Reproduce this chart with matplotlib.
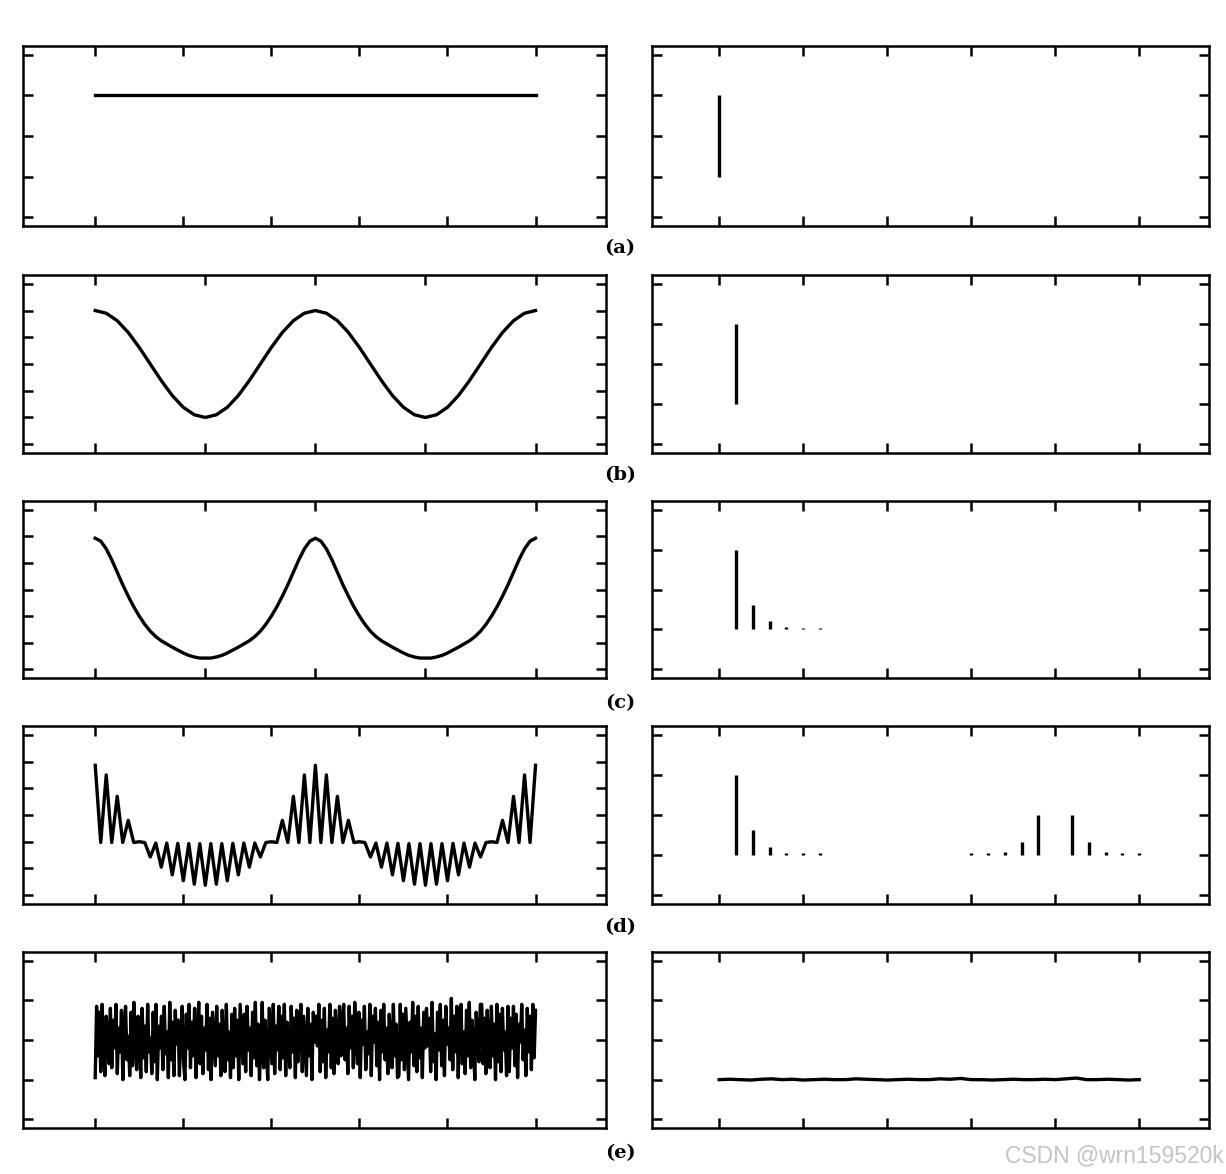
import matplotlib
matplotlib.use('Agg')
import matplotlib.pyplot as plt
import numpy as np

W, H = 1226, 1174

# ---- time signals (left column) ----
a_t = [0.0, 5.0]
a_sig = [3.0, 3.0]

# sampled every 0.125
b_sig = [5.0, 4.90, 4.62, 4.18, 3.62, 3.0, 2.38, 1.82, 1.38, 1.10, 1.0,
         1.10, 1.38, 1.82, 2.38, 3.0, 3.62, 4.18, 4.62, 4.90, 5.0,
         4.90, 4.62, 4.18, 3.62, 3.0, 2.38, 1.82, 1.38, 1.10, 1.0,
         1.10, 1.38, 1.82, 2.38, 3.0, 3.62, 4.18, 4.62, 4.90, 5.0]

# sampled every 0.0625
c_sig = [4.93, 4.82, 4.53, 4.12, 3.65, 3.18, 2.75, 2.35, 2.0, 1.69, 1.43, 1.23, 1.07, 0.95, 0.83, 0.72, 0.61, 0.52, 0.46, 0.42,
         0.42, 0.42, 0.46, 0.52, 0.61, 0.72, 0.83, 0.95, 1.07, 1.23, 1.43, 1.69, 2.0, 2.35, 2.75, 3.18, 3.65, 4.12, 4.53, 4.82,
         4.93, 4.82, 4.53, 4.12, 3.65, 3.18, 2.75, 2.35, 2.0, 1.69, 1.43, 1.23, 1.07, 0.95, 0.83, 0.72, 0.61, 0.52, 0.46, 0.42,
         0.42, 0.42, 0.46, 0.52, 0.61, 0.72, 0.83, 0.95, 1.07, 1.23, 1.43, 1.69, 2.0, 2.35, 2.75, 3.18, 3.65, 4.12, 4.53, 4.82,
         4.93]

# sampled every 0.0625 (carrier peaks / troughs)
d_sig = [4.86, 1.97, 4.5, 1.97, 3.7, 1.97, 2.8, 1.97, 2.0, 1.97,
         1.43, 1.95, 1.05, 1.95, 0.76, 1.94, 0.54, 1.93, 0.41, 1.93,
         0.37, 1.93, 0.41, 1.93, 0.54, 1.94, 0.76, 1.95, 1.05, 1.95,
         1.43, 1.97, 2.0, 1.97, 2.8, 1.97, 3.7, 1.97, 4.5, 1.97,
         4.86, 1.97, 4.5, 1.97, 3.7, 1.97, 2.8, 1.97, 2.0, 1.97,
         1.43, 1.95, 1.05, 1.95, 0.76, 1.94, 0.54, 1.93, 0.41, 1.93,
         0.37, 1.93, 0.41, 1.93, 0.54, 1.94, 0.76, 1.95, 1.05, 1.95,
         1.43, 1.97, 2.0, 1.97, 2.8, 1.97, 3.7, 1.97, 4.5, 1.97, 4.86]

e_sig = [1.05, 2.85, 1.6, 2.7, 1.2, 2.9, 1.9, 1.1, 2.6, 2.2, 1.4, 2.8, 1.3, 2.5, 1.8, 2.9, 1.15, 2.3, 1.7, 2.75,
         1.0, 2.4, 2.85, 1.5, 2.1, 1.1, 2.7, 1.35, 2.95, 1.9, 1.25, 2.6, 2.0, 1.05, 2.8, 1.55, 2.35, 1.2, 2.9, 1.7,
         2.05, 1.15, 2.7, 1.45, 2.9, 1.0, 2.35, 1.8, 2.6, 1.25, 2.85, 1.65, 2.2, 1.05, 2.95, 1.5, 2.45, 1.1, 2.75, 1.9,
         2.5, 1.1, 2.2, 2.85, 1.45, 1.0, 2.65, 1.8, 2.9, 1.3, 2.45, 1.6, 2.8, 1.05, 2.1, 2.95, 1.4, 2.6, 1.15, 2.3,
         1.75, 2.9, 1.25, 2.55, 1.0, 2.7, 2.05, 1.35, 2.85, 1.6, 2.4, 1.1, 2.75, 1.9, 1.2, 2.9, 1.5, 2.2, 1.05, 2.65,
         1.3, 2.8, 1.6, 2.5, 1.0, 2.9, 2.15, 1.4, 2.65, 1.2, 2.85, 1.75, 2.3, 1.1, 2.7, 1.55, 2.95, 1.35, 2.4, 1.0,
         1.85, 2.95, 1.3, 2.5, 1.65, 1.0, 2.8, 2.1, 1.4, 2.9, 1.15, 2.35, 1.75, 2.85, 1.25, 2.6, 1.55, 2.9, 1.1, 2.45,
         2.0, 1.3, 2.85, 1.7, 2.55, 1.05, 2.75, 1.45, 2.25, 2.9, 1.2, 2.6, 1.85, 1.1, 2.8, 1.6, 2.4, 1.0, 2.7, 1.95,
         2.6, 1.85, 2.9, 1.2, 2.5, 1.45, 2.8, 1.05, 2.25, 1.7, 2.9, 1.3, 2.55, 1.15, 2.75, 2.0, 1.4, 2.85, 1.6, 2.35,
         2.9, 1.5, 2.3, 1.15, 2.85, 1.8, 2.6, 1.3, 2.95, 2.1, 1.4, 2.7, 1.05, 2.5, 1.9, 2.85, 1.25, 2.2, 1.65, 2.9,
         1.1, 2.6, 1.95, 2.8, 1.35, 2.45, 1.0, 2.75, 1.7, 2.9, 1.5, 2.3, 1.15, 2.65, 2.05, 1.3, 2.9, 1.6, 2.4, 1.05,
         1.1, 2.9, 1.5, 2.65, 1.25, 2.8, 1.9, 1.0, 2.45, 1.7, 2.95, 1.35, 2.6, 1.2, 2.85, 1.55, 2.3, 1.05, 2.7, 1.8,
         2.8, 1.85, 2.55, 1.2, 2.95, 1.45, 2.15, 1.0, 2.7, 1.75, 2.9, 1.35, 2.5, 1.1, 2.85, 1.9, 2.3, 1.5, 3.05, 1.25,
         2.6, 1.7, 2.85, 1.05, 2.4, 2.9, 1.4, 2.2, 1.15, 2.75, 1.6, 2.95, 1.3, 2.5, 1.85, 1.0, 2.7, 2.1, 1.45, 2.9,
         2.9, 1.4, 2.55, 1.15, 2.75, 1.95, 1.3, 2.85, 1.6, 2.4, 1.0, 2.9, 1.45, 2.65, 1.2, 2.8, 1.75, 2.2, 1.1, 2.85,
         1.2, 2.55, 1.8, 2.85, 1.35, 2.65, 1.05, 2.4, 1.95, 2.9, 1.5, 2.25, 1.1, 2.8, 1.7, 2.6, 1.25, 2.9, 1.55, 2.75]

# ---- spectra (right column) ----
base = 1.0
a_f, a_amp = [0.0], [2.0]
b_f, b_amp = [0.2], [2.0]
c_f = [0.2, 0.4, 0.6, 0.8, 1.0, 1.2]
c_amp = [2.0, 0.6, 0.22, 0.05, 0.04, 0.04]
d_f = [0.2, 0.4, 0.6, 0.8, 1.0, 1.2, 3.0, 3.2, 3.4, 3.6, 3.8, 4.2, 4.4, 4.6, 4.8, 5.0]
d_amp = [2.0, 0.62, 0.2, 0.05, 0.04, 0.04, 0.04, 0.05, 0.08, 0.32, 1.0, 1.0, 0.32, 0.08, 0.05, 0.04]
e_spec = [1.0, 1.01, 1.0, 0.99, 1.01, 1.02, 1.0, 1.01, 0.99, 1.0, 1.01, 1.0, 1.0, 1.02, 1.01,
          1.0, 0.99, 1.0, 1.01, 1.0, 1.0, 1.02, 1.01, 1.03, 1.0, 1.0, 0.99, 1.0, 1.01, 1.0,
          1.0, 1.01, 1.0, 1.02, 1.04, 1.0, 1.0, 1.01, 1.0, 0.99, 1.0]

labels = ['(a)', '(b)', '(c)', '(d)', '(e)']
row_px = [(46, 226), (275, 453), (501, 678), (726, 904), (952, 1128)]
label_y = [248, 475, 703, 927, 1153]

fig = plt.figure(figsize=(W / 100, H / 100), dpi=100)


def make_ax(x0, x1, y0, y1):
    return fig.add_axes([x0 / W, 1 - y1 / H, (x1 - x0) / W, (y1 - y0) / H])


def style(ax, xt, yt, xlim):
    ax.set_xticks(xt)
    ax.set_yticks(yt)
    ax.set_xlim(*xlim)
    span = yt[-1] - yt[0]
    ax.set_ylim(yt[0] - 0.055 * span, yt[-1] + 0.055 * span)
    ax.tick_params(direction='in', length=7.5, width=1.8, top=True, right=True,
                   labelbottom=False, labelleft=False, color='black')
    for s in ax.spines.values():
        s.set_linewidth(1.8)


lw = 2.4
xt6 = [0, 1, 2, 3, 4, 5]
xt5 = [0, 1.25, 2.5, 3.75, 5]
yt5 = [0, 1, 2, 3, 4]
yt7 = [0, 1, 2, 3, 4, 5, 6]
left_x = (-0.82, 5.8)
right_x = (-0.8, 5.83)

left_xt = [xt6, xt5, xt5, xt6, xt6]
left_yt = [yt5, yt7, yt7, yt7, yt5]
left_data = [(a_t, a_sig),
             (np.linspace(0, 5, len(b_sig)), b_sig),
             (np.linspace(0, 5, len(c_sig)), c_sig),
             (np.linspace(0, 5, len(d_sig)), d_sig),
             (np.linspace(0, 5, len(e_sig)), e_sig)]
spectra = [(a_f, a_amp), (b_f, b_amp), (c_f, c_amp), (d_f, d_amp), None]

for i in range(5):
    y0, y1 = row_px[i]
    axl = make_ax(23, 606, y0, y1)
    t, s = left_data[i]
    axl.plot(t, s, color='black', lw=lw)
    style(axl, left_xt[i], left_yt[i], left_x)

    axr = make_ax(652, 1209, y0, y1)
    if spectra[i] is not None:
        f, amp = spectra[i]
        axr.vlines(f, base, base + np.array(amp), color='black', lw=lw)
    else:
        axr.plot(np.linspace(0, 5, len(e_spec)), e_spec, color='black', lw=lw)
    style(axr, xt6, yt5, right_x)

    fig.text(620 / W, 1 - label_y[i] / H, labels[i], ha='center', va='center',
             fontsize=14, fontweight='bold', family='DejaVu Serif')

fig.text(1224 / W, 1 - 1156 / H, 'CSDN @wrn159520k', ha='right', va='center',
         fontsize=16.5, color='#c4c4c4', family='Liberation Sans')

fig.savefig('out.png', dpi=100)
